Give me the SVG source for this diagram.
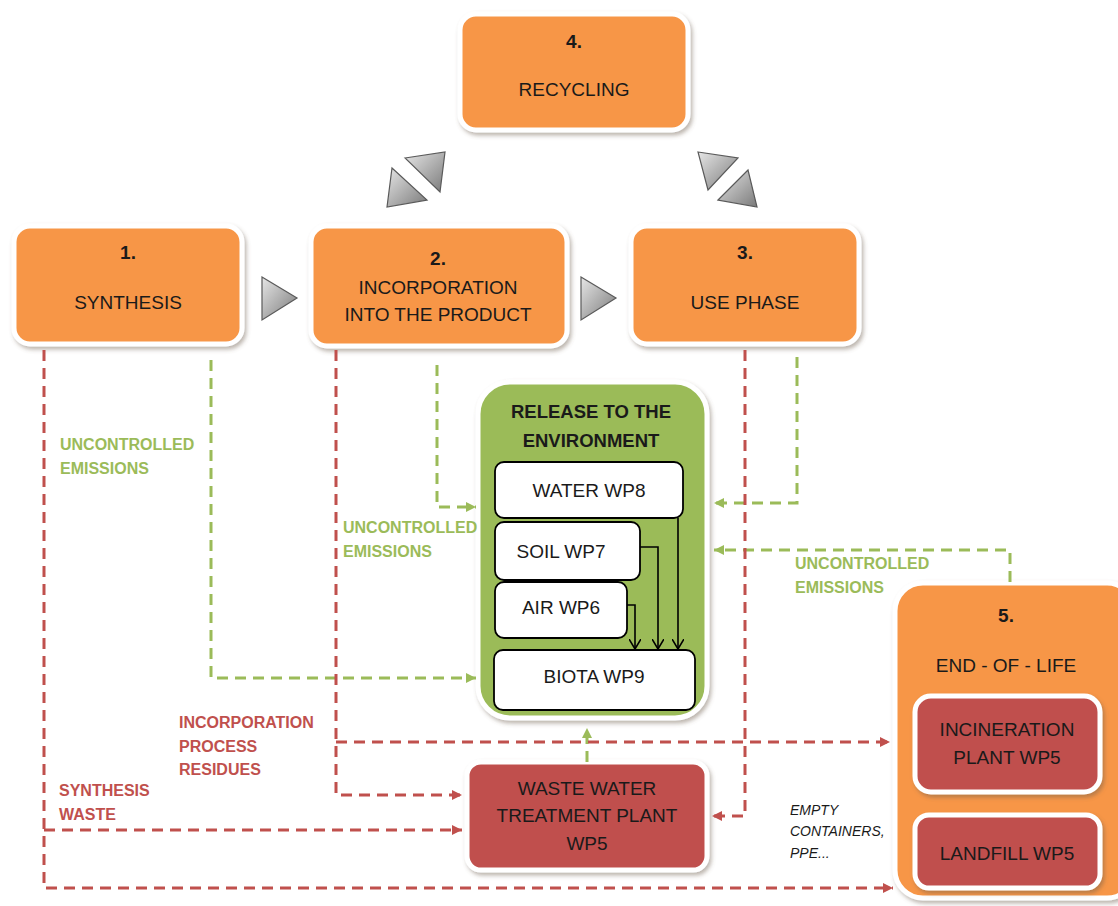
<svg xmlns="http://www.w3.org/2000/svg" width="1118" height="906" viewBox="0 0 1118 906">
<defs>
<filter id="sh" x="-10%" y="-10%" width="125%" height="130%">
<feDropShadow dx="2" dy="3" stdDeviation="2" flood-color="#6b5a4a" flood-opacity="0.45"/>
</filter>
<linearGradient id="tg" x1="0" y1="0" x2="1" y2="1">
<stop offset="0" stop-color="#e6e6e6"/>
<stop offset="1" stop-color="#7a7a7a"/>
</linearGradient>
<marker id="ar" viewBox="0 0 10 10" refX="10" refY="5" markerWidth="11" markerHeight="10" markerUnits="userSpaceOnUse" orient="auto">
<path d="M0,0 L10,5 L0,10 z" fill="#c0504d"/>
</marker>
<marker id="ag" viewBox="0 0 10 10" refX="10" refY="5" markerWidth="11" markerHeight="10" markerUnits="userSpaceOnUse" orient="auto">
<path d="M0,0 L10,5 L0,10 z" fill="#9bbb59"/>
</marker>
<marker id="ab" viewBox="0 0 10 12" refX="10" refY="6" markerWidth="10" markerHeight="12" markerUnits="userSpaceOnUse" orient="auto">
<path d="M0,0 L10,6 L0,12" fill="none" stroke="#000" stroke-width="1.6"/>
</marker>
</defs>
<style>
.box{stroke:#fff;stroke-width:5;filter:url(#sh)}
.or{fill:#f79646}
.rd{fill:#c0504d}
.gr{fill:#9bbb59}
.wb{fill:#fff;stroke:#000;stroke-width:1.8}
.t{font-family:"Liberation Sans",Arial,sans-serif;font-size:19px;fill:#1a1a1a;text-anchor:middle}
.b{font-weight:bold}
.lab{font-family:"Liberation Sans",Arial,sans-serif;font-size:16px;font-weight:bold}
.lg{fill:#9bbb59}
.lr{fill:#c0504d}
.it{font-family:"Liberation Sans",Arial,sans-serif;font-size:14px;font-style:italic;fill:#1a1a1a}
.rl{fill:none;stroke:#c0504d;stroke-width:3;stroke-dasharray:11 7;marker-end:url(#ar)}
.gl{fill:none;stroke:#9bbb59;stroke-width:3;stroke-dasharray:11 7;marker-end:url(#ag)}
.bl{fill:none;stroke:#000;stroke-width:1.6;marker-end:url(#ab)}
.tri{fill:url(#tg);stroke:#5a5a5a;stroke-width:1.2}
</style>

<g id="node-recycling">
<rect class="box or" x="460" y="14" width="228" height="116" rx="16"/>
<text class="t b" x="574" y="48">4.</text>
<text class="t" x="574" y="96">RECYCLING</text>
</g>
<g id="node-synthesis">
<rect class="box or" x="14" y="226" width="228" height="118" rx="16"/>
<text class="t b" x="128" y="259">1.</text>
<text class="t" x="128" y="309">SYNTHESIS</text>
</g>
<g id="node-incorporation">
<rect class="box or" x="311" y="226" width="256" height="120" rx="16"/>
<text class="t b" x="438" y="265">2.</text>
<text class="t" x="438" y="294">INCORPORATION</text>
<text class="t" x="438" y="321">INTO THE PRODUCT</text>
</g>
<g id="node-use">
<rect class="box or" x="631" y="226" width="228" height="118" rx="16"/>
<text class="t b" x="745" y="259">3.</text>
<text class="t" x="745" y="309">USE PHASE</text>
</g>

<g id="arrows-cycle">
<polygon class="tri" points="262,277 297,298 262,320"/>
<polygon class="tri" points="581,277 616,298 581,320"/>
<polygon class="tri" points="405,158 445,152 440,192"/>
<polygon class="tri" points="392,168 427,200 387,207"/>
<polygon class="tri" points="698,152 738,158 708,190"/>
<polygon class="tri" points="718,200 748,170 757,207"/>
</g>

<g id="node-release">
<rect class="box gr" x="478" y="382" width="229" height="336" rx="32"/>
<text class="t b" x="591" y="418" style="font-size:18.5px">RELEASE TO THE</text>
<text class="t b" x="591" y="447" style="font-size:18.5px">ENVIRONMENT</text>
</g>
<g id="node-water">
<rect class="wb" x="495" y="462" width="188" height="56" rx="9"/>
<text class="t" x="589" y="497">WATER WP8</text>
</g>
<g id="node-soil">
<rect class="wb" x="495" y="522" width="145" height="58" rx="9"/>
<text class="t" x="561" y="558">SOIL WP7</text>
</g>
<g id="node-air">
<rect class="wb" x="495" y="582" width="132" height="56" rx="9"/>
<text class="t" x="561" y="614">AIR WP6</text>
</g>
<g id="node-biota">
<rect class="wb" x="494" y="650" width="201" height="60" rx="9"/>
<text class="t" x="594" y="683">BIOTA WP9</text>
</g>

<g id="node-wwtp">
<rect class="box rd" x="467" y="762" width="240" height="108" rx="14"/>
<text class="t" x="587" y="795">WASTE WATER</text>
<text class="t" x="587" y="822">TREATMENT PLANT</text>
<text class="t" x="587" y="850">WP5</text>
</g>

<g id="node-eol">
<rect class="box or" x="895" y="583" width="240" height="315" rx="28"/>
<text class="t b" x="1006" y="622">5.</text>
<text class="t" x="1006" y="672">END - OF - LIFE</text>
</g>
<g id="node-incineration">
<rect class="box rd" x="915" y="696" width="185" height="96" rx="16"/>
<text class="t" x="1007" y="736">INCINERATION</text>
<text class="t" x="1007" y="764">PLANT WP5</text>
</g>
<g id="node-landfill">
<rect class="box rd" x="915" y="815" width="185" height="73" rx="14"/>
<text class="t" x="1007" y="860">LANDFILL WP5</text>
</g>

<g id="connectors">
<path class="bl" d="M678,518 V649"/>
<path class="bl" d="M640,547 H658 V649"/>
<path class="bl" d="M627,605 H635 V649"/>
<path class="gl" d="M211,360 V678 H476"/>
<path class="gl" d="M437,365 V507 H476"/>
<path class="gl" d="M797,357 V503 H714"/>
<path class="gl" d="M1010,582 V550 H714"/>
<path class="gl" d="M587,762 V728"/>
<path class="rl" d="M44,350 V888 H893"/>
<path class="rl" d="M44,830 H462"/>
<path class="rl" d="M336,350 V795 H462"/>
<path class="rl" d="M336,742 H890"/>
<path class="rl" d="M745,350 V816 H712"/>
</g>

<g id="labels">
<text class="lab lg" x="60" y="450">UNCONTROLLED</text>
<text class="lab lg" x="60" y="474">EMISSIONS</text>
<text class="lab lg" x="343" y="533">UNCONTROLLED</text>
<text class="lab lg" x="343" y="557">EMISSIONS</text>
<text class="lab lg" x="795" y="569">UNCONTROLLED</text>
<text class="lab lg" x="795" y="593">EMISSIONS</text>
<text class="lab lr" x="179" y="728">INCORPORATION</text>
<text class="lab lr" x="179" y="752">PROCESS</text>
<text class="lab lr" x="179" y="775">RESIDUES</text>
<text class="lab lr" x="59" y="796">SYNTHESIS</text>
<text class="lab lr" x="59" y="820">WASTE</text>
<text class="it" x="790" y="815">EMPTY</text>
<text class="it" x="790" y="836">CONTAINERS,</text>
<text class="it" x="790" y="858">PPE...</text>
</g>
</svg>
